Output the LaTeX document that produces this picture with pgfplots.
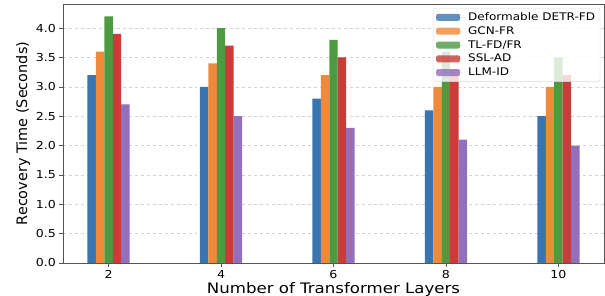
\documentclass[border=0pt]{standalone}
\usepackage{fontspec}
\setmainfont{DejaVu Sans}[FakeStretch=1.15]
\newfontfamily\plainfont{DejaVu Sans}
\usepackage{pgfplots}
\pgfplotsset{compat=1.18}
\definecolor{cBlue}{HTML}{3A75B0}
\definecolor{cOrange}{HTML}{EF8A3A}
\definecolor{cGreen}{HTML}{4E9A41}
\definecolor{cRed}{HTML}{C83C39}
\definecolor{cPurple}{HTML}{9370BC}
\definecolor{spine}{HTML}{555555}
\begin{document}
\begin{tikzpicture}
\useasboundingbox (0,0) rectangle (605bp,296bp);
\begin{axis}[
  at={(63bp,33bp)}, anchor=south west,
  scale only axis, width=541bp, height=259bp,
  xmin=1.19, xmax=10.81, ymin=0, ymax=4.41,
  ybar=0pt, bar width=0.15,
  xtick={2,4,6,8,10},
  ytick={0,0.5,1,1.5,2,2.5,3,3.5,4},
  yticklabel style={/pgf/number format/.cd,fixed,fixed zerofill,precision=1},
  /pgf/number format/assume math mode=true,
  ticklabel style={font=\fontsize{11}{13}\selectfont},
  xtick pos=bottom, ytick pos=left,
  tick align=outside, major tick length=3.5bp,
  tick style={spine, line width=0.6pt},
  axis line style={spine, line width=0.8pt},
  ymajorgrids, grid style={dashed, gray!35, line width=0.5pt},
  xlabel={Number of Transformer Layers},
  ylabel={Recovery Time (Seconds)},
  xlabel style={font=\fontsize{14.5}{16}\selectfont, yshift=3bp},
  ylabel style={font=\plainfont\fontsize{14.5}{16}\selectfont, yshift=-1bp},
  legend style={at={(0.993,0.985)}, anchor=north east, draw=gray!30, fill=white, fill opacity=0.8, text opacity=1, rounded corners=2bp, font=\fontsize{10.5}{12.8}\selectfont, row sep=0.6bp, inner xsep=3bp, inner ysep=2.5bp},
  legend cell align=left,
  legend image code/.code={\fill[#1, draw=none] (0bp,-3.5bp) rectangle (24bp,3.5bp); \path (0bp,0bp) -- (30bp,0bp);},
]
\addplot[fill=cBlue, draw=none, bar shift=-0.3] coordinates {(2,3.2) (4,3.0) (6,2.8) (8,2.6) (10,2.5)};
\addplot[fill=cOrange, draw=none, bar shift=-0.15] coordinates {(2,3.6) (4,3.4) (6,3.2) (8,3.0) (10,3.0)};
\addplot[fill=cGreen, draw=none, bar shift=0] coordinates {(2,4.2) (4,4.0) (6,3.8) (8,3.6) (10,3.5)};
\addplot[fill=cRed, draw=none, bar shift=0.15] coordinates {(2,3.9) (4,3.7) (6,3.5) (8,3.3) (10,3.2)};
\addplot[fill=cPurple, draw=none, bar shift=0.3] coordinates {(2,2.7) (4,2.5) (6,2.3) (8,2.1) (10,2.0)};
\legend{Deformable DETR-FD, GCN-FR, TL-FD/FR, SSL-AD, LLM-ID}
\end{axis}
\end{tikzpicture}
\end{document}
